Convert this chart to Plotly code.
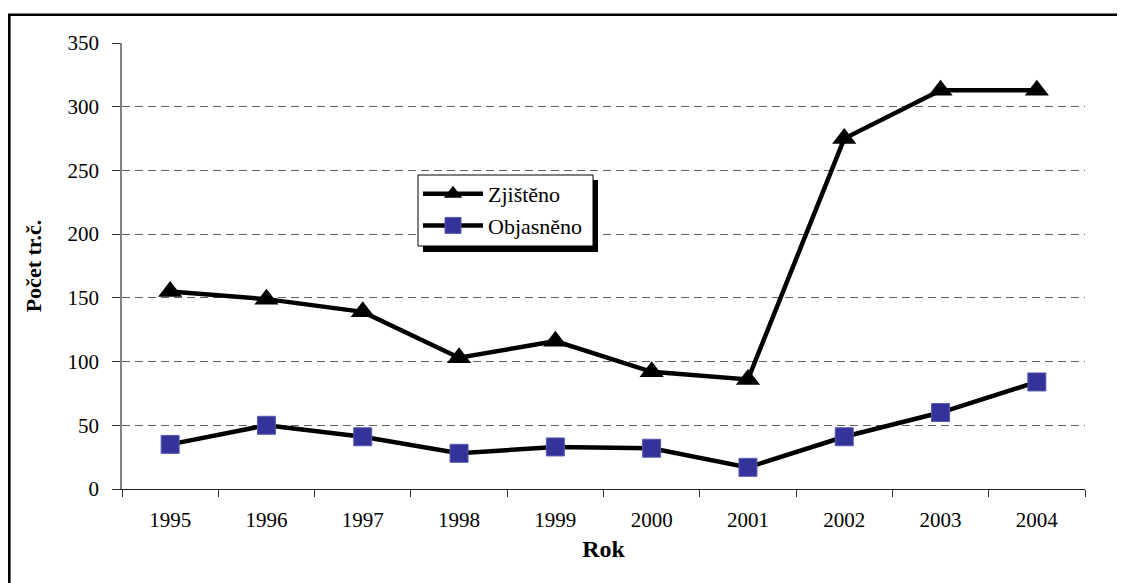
import plotly.graph_objects as go

years = ["1995", "1996", "1997", "1998", "1999", "2000", "2001", "2002", "2003", "2004"]
zjisteno = [155, 149, 139, 103, 116, 92, 86, 275, 313, 313]
objasneno = [35, 50, 41, 28, 33, 32, 17, 41, 60, 84]

# page body has an 8px margin, so the figure is sized to fit the window
W, H = 1117, 575
L, R, T, B = 114, 40, 35, 94
pw, ph = W - L - R, H - T - B

font = "'Liberation Serif', 'Times New Roman', serif"

fig = go.Figure()
fig.add_trace(go.Scatter(
    x=years, y=zjisteno, name="Zjištěno", mode="lines+markers",
    line=dict(color="black", width=4.5),
    marker=dict(symbol="triangle-up", size=21, color="black"),
))
fig.add_trace(go.Scatter(
    x=years, y=objasneno, name="Objasněno", mode="lines+markers",
    line=dict(color="black", width=4.5),
    marker=dict(symbol="square", size=18, color="#333399", line=dict(color="#5a5ab0", width=1)),
))

def px(x):
    return (x - L) / pw

def py(y):
    return (H - B - y) / ph

# outer border
fig.add_shape(type="rect", xref="paper", yref="paper",
              x0=px(1.3), x1=px(1140), y0=py(600), y1=py(6.7),
              line=dict(color="black", width=2.6), fillcolor="rgba(0,0,0,0)", layer="below")
# legend shadow
fig.add_shape(type="rect", xref="paper", yref="paper",
              x0=px(415), x1=px(590), y0=py(244), y1=py(172),
              line=dict(width=0), fillcolor="black", layer="above")
# legend box
fig.add_shape(type="rect", xref="paper", yref="paper",
              x0=px(410), x1=px(585), y0=py(238), y1=py(167),
              line=dict(color="black", width=1), fillcolor="white", layer="above")

fig.update_layout(
    width=W, height=H,
    margin=dict(l=L, r=R, t=T, b=B),
    paper_bgcolor="white", plot_bgcolor="white",
    font=dict(family=font, size=21, color="black"),
    showlegend=True,
    legend=dict(x=px(410), y=py(165), xanchor="left", yanchor="top",
                bgcolor="rgba(0,0,0,0)", borderwidth=0,
                font=dict(family=font, size=22), itemwidth=60,
                tracegroupgap=0),
    xaxis=dict(
        type="category", range=[-0.5, len(years) - 0.5], autorange=False,
        tickson="boundaries", ticks="outside", ticklen=7,
        tickcolor="#303030", showline=True, linecolor="#202020", linewidth=1.3,
        showgrid=False, tickfont=dict(family=font, size=21), ticklabelstandoff=12,
        title=dict(text="<b>Rok</b>", font=dict(family=font, size=24), standoff=8),
    ),
    yaxis=dict(
        range=[0, 350], dtick=50, ticks="outside", ticklen=8, tickcolor="#303030",
        showline=True, linecolor="#808080", linewidth=1.5,
        showgrid=True, gridcolor="#606060", griddash="8px,5px", gridwidth=1,
        zeroline=False, tickfont=dict(family=font, size=21), ticklabelstandoff=9,
        title=dict(text="<b>Počet tr.č.</b>", font=dict(family=font, size=22), standoff=20),
    ),
)

fig.write_html("out.html")
